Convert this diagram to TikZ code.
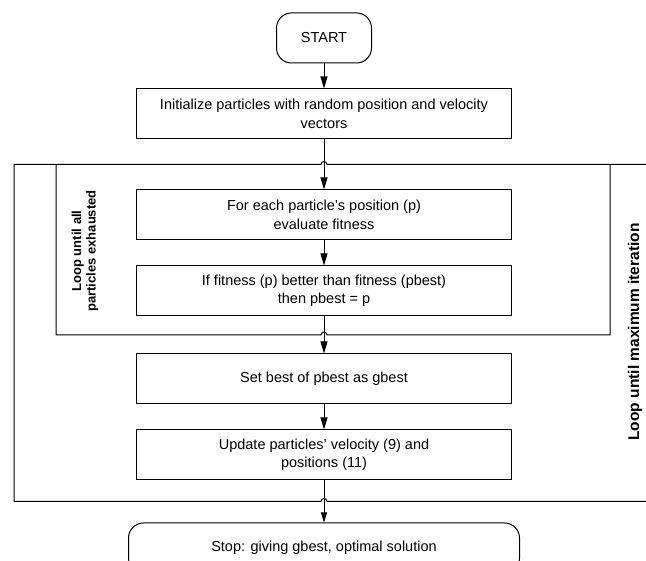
\documentclass[tikz,border=0pt]{standalone}
\usepackage{fontspec}
\setmainfont{Liberation Sans}
\usepackage{tikz}
\usetikzlibrary{arrows.meta, positioning, calc}

\begin{document}
\begin{tikzpicture}[
        x=1pt, y=1pt,
        >={Triangle[length=12pt,width=7pt]},
        font=\fontsize{14.5}{18.5}\selectfont,
        line width=1pt,
        startstop/.style={rectangle, rounded corners=15pt, draw=black, minimum height=50pt, text centered},
        process/.style={rectangle, draw=black, minimum width=375pt, minimum height=50pt, align=center},
        looplabel/.style={rotate=90, font=\bfseries\fontsize{13}{14.5}\selectfont, align=center}
    ]
    \useasboundingbox (0,0) rectangle (646,561);

    % 1. Cac khoi (xep thang hang doc)
    \node[startstop, minimum width=95pt] (start) at (324,523) {START};
    \node[process, below=25pt of start] (init) {Initialize particles with random position and velocity\\vectors};
    \node[process, below=50pt of init] (evalfit) {For each particle’s position (p)\\evaluate fitness};
    \node[process, below=25pt of evalfit] (pbest) {If fitness (p) better than fitness (pbest)\\then pbest = p};
    \node[process, below=37pt of pbest] (gbest) {Set best of pbest as gbest};
    \node[process, below=25pt of gbest] (update) {Update particles’ velocity (9) and\\positions (11)};
    \node[startstop, minimum width=391pt, below=42pt of update] (stop) {Stop: giving gbest, optimal solution};

    % 2. Cac duong vong lap (co nhay qua duong mui ten)
    \coordinate (looptop) at ($(init.south)!0.5!(evalfit.north)$);
    \coordinate (innerbot) at ($(pbest.south)!0.5!(gbest.north)$);
    \coordinate (outerbot) at ($(update.south)!0.5!(stop.north)$);

    \draw (650,0 |- looptop) -- ([xshift=3pt]looptop) arc[start angle=0, end angle=180, radius=3pt] -- (14,0 |- looptop) -- (14,0 |- outerbot) -- ([xshift=-3pt]outerbot) arc[start angle=180, end angle=0, radius=3pt] -- (650,0 |- outerbot);
    \draw (56,0 |- looptop) -- (56,0 |- innerbot) -- ([xshift=-3pt]innerbot) arc[start angle=180, end angle=0, radius=3pt] -- (610,0 |- innerbot) -- (610,0 |- looptop);

    \node[looplabel] (innerlabel) at (85,310) {Loop until all\\particles exhausted};
    \node[looplabel, font=\bfseries\fontsize{15.5}{17}\selectfont] (outerlabel) at (635,229) {Loop until maximum iteration};

    % 3. Mui ten di xuong
    \draw[->] (start) -- (init);
    \draw[->] (init) -- (evalfit);
    \draw[->] (evalfit) -- (pbest);
    \draw[->] (pbest) -- (gbest);
    \draw[->] (gbest) -- (update);
    \draw[->, line width=0.8pt, >={Triangle[length=10pt,width=6pt]}] (update) -- (stop);

\end{tikzpicture}
\end{document}
